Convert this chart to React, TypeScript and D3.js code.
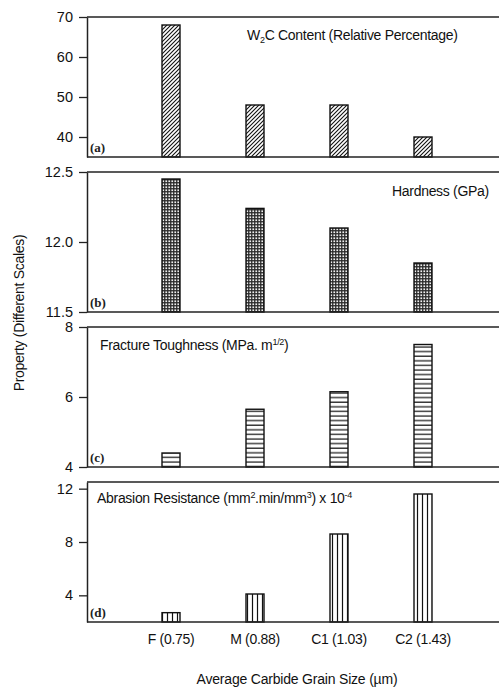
import React, { useEffect, useRef } from 'react';
import * as d3 from 'd3';

// values
const categories = ['F (0.75)', 'M (0.88)', 'C1 (1.03)', 'C2 (1.43)'];
const w2cContent = [68, 48, 48, 40];
const hardness = [12.45, 12.24, 12.1, 11.85];
const toughness = [4.4, 5.65, 6.15, 7.5];
const abrasion = [2.7, 4.1, 8.6, 11.6];

const ticksA = [40, 50, 60, 70];
const ticksB = [11.5, 12.0, 12.5];
const ticksC = [4, 6, 8];
const ticksD = [4, 8, 12];

const W = 499;
const H = 690;

const App = () => {
  const svgRef = useRef<SVGSVGElement>(null);

  useEffect(() => {
    const svg = d3.select(svgRef.current);
    svg.selectAll('*').remove();

    const left = 87;
    const right = 507;
    const panelH = 140;
    const tops = [17, 172, 327, 482];
    const barW = 18;
    const font = 'Arial, "Liberation Sans", Helvetica, sans-serif';

    const x = d3.scalePoint<string>().domain(categories).range([left, right]).padding(1);

    // hatch patterns
    const defs = svg.append('defs');
    const pA = defs.append('pattern').attr('id', 'hatchA')
      .attr('patternUnits', 'userSpaceOnUse').attr('width', 4).attr('height', 4);
    pA.append('rect').attr('width', 4).attr('height', 4).attr('fill', 'white');
    pA.append('path').attr('d', 'M-1,1 l2,-2 M0,4 l4,-4 M3,5 l2,-2')
      .attr('stroke', '#111').attr('stroke-width', 1.1);

    const pB = defs.append('pattern').attr('id', 'checkB')
      .attr('patternUnits', 'userSpaceOnUse').attr('width', 3).attr('height', 3);
    pB.append('rect').attr('width', 3).attr('height', 3).attr('fill', '#2a2a2a');
    pB.append('rect').attr('x', 0.4).attr('y', 0.4).attr('width', 1.7).attr('height', 1.7).attr('fill', '#f0f0f0');

    const pC = defs.append('pattern').attr('id', 'horizC')
      .attr('patternUnits', 'userSpaceOnUse').attr('width', 6).attr('height', 4.6);
    pC.append('rect').attr('width', 6).attr('height', 4.6).attr('fill', 'white');
    pC.append('line').attr('x1', 0).attr('x2', 6).attr('y1', 2).attr('y2', 2)
      .attr('stroke', '#111').attr('stroke-width', 1.2);

    const pD = defs.append('pattern').attr('id', 'vertD')
      .attr('patternUnits', 'userSpaceOnUse').attr('width', 5).attr('height', 6);
    pD.append('rect').attr('width', 5).attr('height', 6).attr('fill', 'white');
    pD.append('line').attr('y1', 0).attr('y2', 6).attr('x1', 2.5).attr('x2', 2.5)
      .attr('stroke', '#111').attr('stroke-width', 1.2);

    const panels = [
      { values: w2cContent, domain: [35, 70], ticks: ticksA, fmt: d3.format('d'), fill: 'url(#hatchA)', tag: '(a)' },
      { values: hardness, domain: [11.5, 12.5], ticks: ticksB, fmt: d3.format('.1f'), fill: 'url(#checkB)', tag: '(b)' },
      { values: toughness, domain: [4, 8], ticks: ticksC, fmt: d3.format('d'), fill: 'url(#horizC)', tag: '(c)' },
      { values: abrasion, domain: [2, 12.5], ticks: ticksD, fmt: d3.format('d'), fill: 'url(#vertD)', tag: '(d)' },
    ];

    panels.forEach((p, i) => {
      const top = tops[i];
      const bottom = top + panelH;
      const y = d3.scaleLinear().domain(p.domain).range([bottom, top]);
      const g = svg.append('g');

      // bars
      g.selectAll('rect.bar')
        .data(p.values)
        .enter()
        .append('rect')
        .attr('class', 'bar')
        .attr('x', (d, j) => (x(categories[j]) as number) - barW / 2)
        .attr('y', d => y(d))
        .attr('width', barW)
        .attr('height', d => bottom - y(d))
        .attr('fill', p.fill)
        .attr('stroke', '#111')
        .attr('stroke-width', 1.4);

      // frame: top and bottom rules
      g.append('line').attr('x1', left).attr('x2', W).attr('y1', top).attr('y2', top)
        .attr('stroke', '#222').attr('stroke-width', 1.5);
      g.append('line').attr('x1', left).attr('x2', W).attr('y1', bottom).attr('y2', bottom)
        .attr('stroke', '#222').attr('stroke-width', 1.5);

      const yAxis = d3.axisLeft(y).tickValues(p.ticks).tickFormat(p.fmt as any)
        .tickSize(8).tickSizeOuter(0).tickPadding(6);
      const ax = g.append('g').attr('transform', `translate(${left},0)`).call(yAxis);
      ax.select('.domain').attr('stroke', '#222').attr('stroke-width', 1.5);
      ax.selectAll('.tick line').attr('stroke', '#222').attr('stroke-width', 1.3);
      ax.selectAll('.tick text')
        .attr('font-family', font)
        .attr('font-size', 14.5)
        .attr('fill', '#111');

      g.append('text')
        .attr('x', left + 3)
        .attr('y', bottom - 5)
        .attr('font-family', '"Liberation Serif", "Times New Roman", serif')
        .attr('font-weight', 'bold')
        .attr('font-size', 13)
        .attr('fill', '#222')
        .text(p.tag);
    });

    const label = (xx: number, yy: number) => svg.append('text')
      .attr('x', xx).attr('y', yy)
      .attr('font-family', font).attr('font-size', 14)
      .attr('letter-spacing', -0.3).attr('fill', '#111');

    // (a)
    const la = label(247, 40);
    la.append('tspan').text('W');
    la.append('tspan').attr('font-size', 9).attr('dy', 3).text('2');
    la.append('tspan').attr('dy', -3).text('C Content (Relative Percentage)');

    // (b)
    label(392, 196).text('Hardness (GPa)');

    // (c)
    const lc = label(100, 350);
    lc.append('tspan').text('Fracture Toughness (MPa. m');
    lc.append('tspan').attr('font-size', 9).attr('dy', -5).text('1/2');
    lc.append('tspan').attr('dy', 5).text(')');

    // (d)
    const ld = label(97, 503);
    ld.append('tspan').text('Abrasion Resistance (mm');
    ld.append('tspan').attr('font-size', 9).attr('dy', -5).text('2');
    ld.append('tspan').attr('dy', 5).text('.min/mm');
    ld.append('tspan').attr('font-size', 9).attr('dy', -5).text('3');
    ld.append('tspan').attr('dy', 5).text(') x 10');
    ld.append('tspan').attr('font-size', 9).attr('dy', -5).text('-4');

    // category labels
    svg.selectAll('text.cat')
      .data(categories)
      .enter()
      .append('text')
      .attr('class', 'cat')
      .attr('x', d => x(d) as number)
      .attr('y', 644)
      .attr('text-anchor', 'middle')
      .attr('font-family', font)
      .attr('font-size', 14)
      .attr('letter-spacing', -0.3)
      .attr('fill', '#111')
      .text(d => d);

    svg.append('text')
      .attr('x', 297).attr('y', 684)
      .attr('text-anchor', 'middle')
      .attr('font-family', font).attr('font-size', 14)
      .attr('letter-spacing', -0.2).attr('fill', '#111')
      .text('Average Carbide Grain Size (µm)');

    svg.append('text')
      .attr('transform', 'translate(24,313) rotate(-90)')
      .attr('text-anchor', 'middle')
      .attr('font-family', font).attr('font-size', 14)
      .attr('letter-spacing', -0.3).attr('fill', '#111')
      .text('Property (Different Scales)');
  }, []);

  return (
    <svg ref={svgRef} width={W} height={H}
      style={{ position: 'absolute', left: 0, top: 0, background: 'white' }} />
  );
};

export default App;
